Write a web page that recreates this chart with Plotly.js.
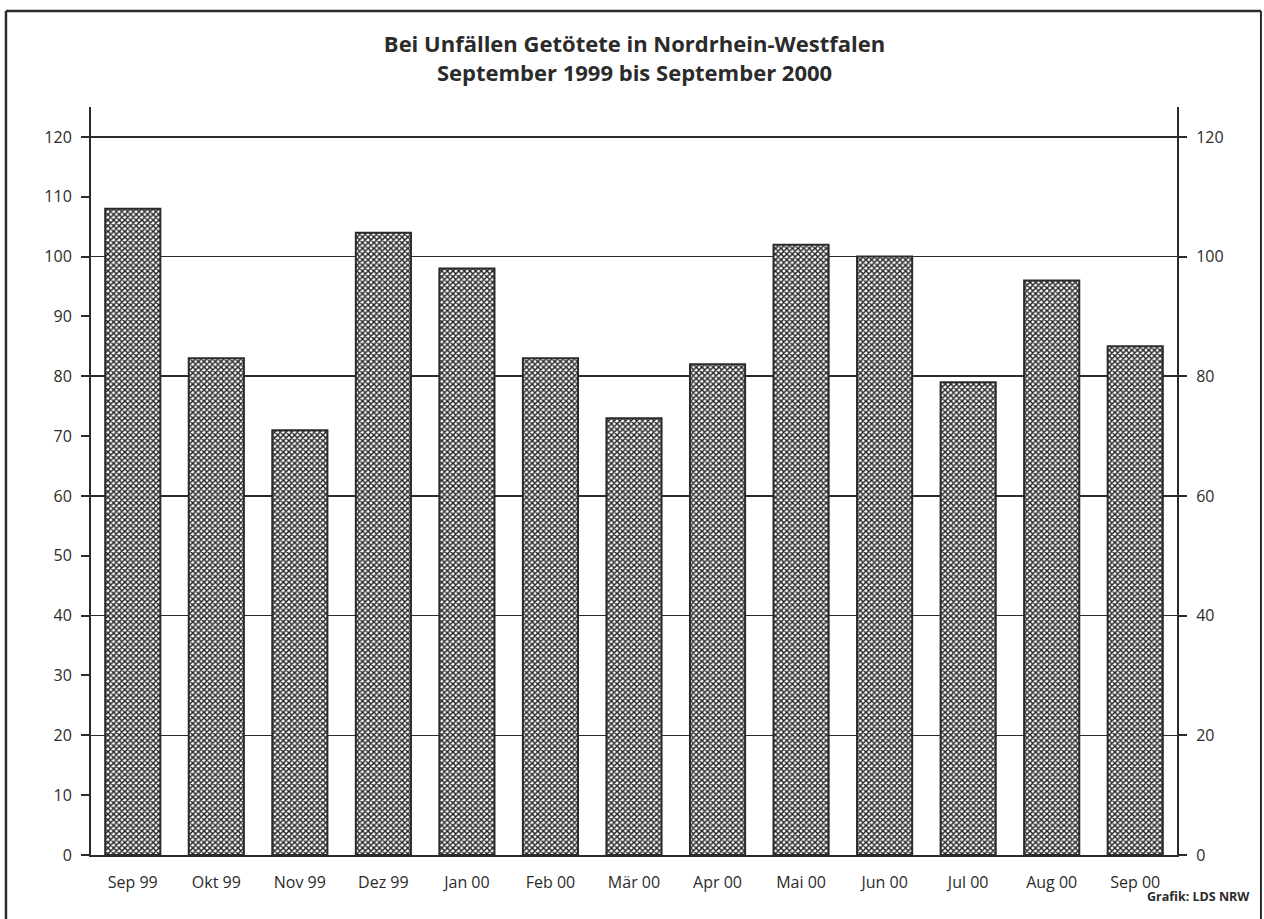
<!DOCTYPE html>
<html>
<head>
<meta charset="utf-8">
<script src="https://cdn.plot.ly/plotly-3.0.1.min.js"></script>
<style>
html,body{margin:0;padding:0;background:#fff;}
#chart{width:1264px;height:919px;}
</style>
</head>
<body>
<div id="chart"></div>
<script>
const months = ["Sep 99","Okt 99","Nov 99","Dez 99","Jan 00","Feb 00","Mär 00","Apr 00","Mai 00","Jun 00","Jul 00","Aug 00","Sep 00"];
const killed = [108, 83, 71, 104, 98, 83, 73, 82, 102, 100, 79, 96, 85];
const leftTicks = [0,10,20,30,40,50,60,70,80,90,100,110,120];
const rightTicks = [0,20,40,60,80,100,120];

const font = "'Open Sans', 'Noto Sans', sans-serif";
const ink = "#2b2b2b";

const trace = {
  type: "bar",
  x: months,
  y: killed,
  width: 0.66,
  marker: {
    color: "#ffffff",
    line: {color: ink, width: 2},
    pattern: {shape: "x", fgcolor: "#222222", bgcolor: "#ffffff", size: 4, solidity: 0.6}
  },
  hoverinfo: "x+y"
};
const ghost = {
  type: "scatter", x: [months[0]], y: [0], yaxis: "y2",
  mode: "markers", marker: {opacity: 0}, hoverinfo: "skip", showlegend: false
};

const layout = {
  width: 1264, height: 919,
  paper_bgcolor: "#fff", plot_bgcolor: "rgba(0,0,0,0)",
  margin: {l: 91, r: 87, t: 107, b: 64},
  showlegend: false,
  bargap: 0.34,
  title: {
    text: "<b>Bei Unfällen Getötete in Nordrhein-Westfalen<br>September 1999 bis September 2000</b>",
    font: {family: font, size: 22, color: ink},
    x: 0.502, xanchor: "center", y: 0.9435, yanchor: "middle"
  },
  xaxis: {
    type: "category", range: [-0.5, 12.5],
    showline: true, linecolor: ink, linewidth: 2,
    ticks: "", showgrid: false, ticklabelstandoff: 12,
    tickfont: {family: font, size: 16, color: ink}
  },
  yaxis: {
    range: [0, 125], tickvals: leftTicks, ticktext: leftTicks.map(String),
    showline: true, linecolor: ink, linewidth: 2,
    ticks: "outside", ticklen: 8, tickwidth: 2, tickcolor: ink,
    showgrid: false, zeroline: false, ticklabelstandoff: 6,
    tickfont: {family: font, size: 16, color: ink}
  },
  yaxis2: {
    overlaying: "y", side: "right", range: [0, 125],
    tickvals: rightTicks, ticktext: rightTicks.map(String),
    showline: true, linecolor: ink, linewidth: 2,
    ticks: "outside", ticklen: 8, tickwidth: 2, tickcolor: ink,
    showgrid: true, gridcolor: ink, gridwidth: 1.6, zeroline: false,
    ticklabelstandoff: 6,
    tickfont: {family: font, size: 16, color: ink}, layer: "below traces"
  },
  shapes: [
    {type: "line", xref: "paper", yref: "paper", x0: -0.0783, x1: 1.0773, y0: 1.1283, y1: 1.1283, line: {color: ink, width: 2.5}},
    {type: "line", xref: "paper", yref: "paper", x0: -0.0783, x1: -0.0783, y0: 1.1283, y1: -0.12, line: {color: ink, width: 2.5}},
    {type: "line", xref: "paper", yref: "paper", x0: 1.0773, x1: 1.0773, y0: 1.1283, y1: -0.12, line: {color: ink, width: 2}}
  ],
  annotations: [
    {text: "<b>Grafik: LDS NRW</b>", xref: "paper", yref: "paper", x: 1.0690, y: -0.056,
     xanchor: "right", yanchor: "middle", showarrow: false,
     font: {family: font, size: 12.5, color: ink}}
  ]
};

Plotly.newPlot("chart", [trace, ghost], layout, {displayModeBar: false, staticPlot: true});
</script>
</body>
</html>
